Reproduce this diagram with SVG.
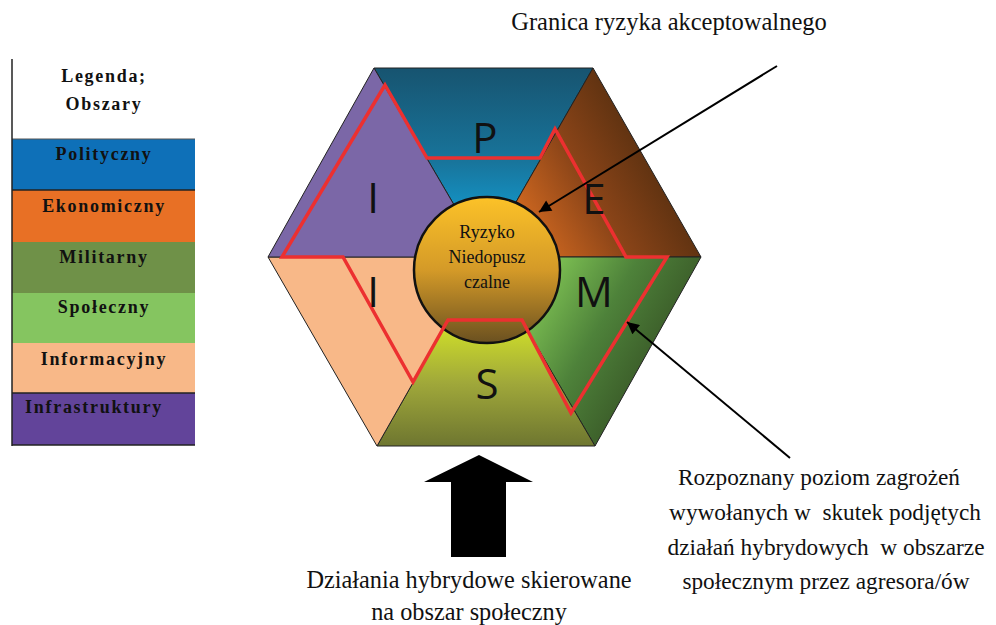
<svg xmlns="http://www.w3.org/2000/svg" width="996" height="625" viewBox="0 0 996 625">
<defs>
<linearGradient id="gP" x1="0" y1="68" x2="0" y2="257" gradientUnits="userSpaceOnUse"><stop offset="0" stop-color="#175470"/><stop offset="0.5" stop-color="#18759c"/><stop offset="1" stop-color="#10b0ee"/></linearGradient>
<linearGradient id="gE" x1="530" y1="235" x2="660" y2="160" gradientUnits="userSpaceOnUse"><stop offset="0" stop-color="#d06820"/><stop offset="0.5" stop-color="#8a4418"/><stop offset="1" stop-color="#5a3010"/></linearGradient>
<linearGradient id="gM" x1="545" y1="280" x2="665" y2="350" gradientUnits="userSpaceOnUse"><stop offset="0" stop-color="#7cbf52"/><stop offset="0.5" stop-color="#4e823a"/><stop offset="1" stop-color="#3a5a28"/></linearGradient>
<linearGradient id="gS" x1="0" y1="320" x2="0" y2="446" gradientUnits="userSpaceOnUse"><stop offset="0" stop-color="#d4e428"/><stop offset="0.5" stop-color="#a0a83a"/><stop offset="1" stop-color="#6e7630"/></linearGradient>
<linearGradient id="gC" x1="0" y1="197" x2="0" y2="343" gradientUnits="userSpaceOnUse"><stop offset="0" stop-color="#fcc228"/><stop offset="0.5" stop-color="#d49a28"/><stop offset="1" stop-color="#6a5020"/></linearGradient>
<marker id="ah" viewBox="0 0 10 10" refX="10" refY="5" markerWidth="7" markerHeight="6" orient="auto" markerUnits="strokeWidth"><path d="M0,0 L10,5 L0,10 z" fill="#000"/></marker>
</defs>
<style>
.sec{stroke:#222;stroke-width:1;stroke-linejoin:round}
.lg{font-family:"Liberation Serif",serif;font-weight:bold;font-size:18px;letter-spacing:1.7px;fill:#111;text-anchor:middle}
.big{font-family:"Open Sans","Liberation Sans",sans-serif;font-size:42px;fill:#111;text-anchor:middle}
.tx{font-family:"Liberation Serif",serif;fill:#111;text-anchor:middle}
.conn{stroke:#000;stroke-width:2;fill:none}
</style>
<rect width="996" height="625" fill="#fff"/>

<g id="legend">
<rect x="12" y="139" width="183" height="51" fill="#0e70b8"/>
<rect x="12" y="190" width="183" height="52" fill="#e87025"/>
<rect x="12" y="242" width="183" height="51" fill="#6f9148"/>
<rect x="12" y="293" width="183" height="50" fill="#85c560"/>
<rect x="12" y="343" width="183" height="50" fill="#f8b888"/>
<rect x="12" y="393" width="183" height="52" fill="#62449a"/>
<line x1="12" y1="139" x2="195" y2="139" stroke="#555" stroke-width="1"/>
<line x1="12" y1="190" x2="195" y2="190" stroke="#222" stroke-width="1.5"/>
<line x1="12" y1="393" x2="195" y2="393" stroke="#222" stroke-width="1.5"/>
<line x1="12" y1="445" x2="195" y2="445" stroke="#222" stroke-width="1.5"/>
<line x1="12" y1="59" x2="12" y2="446" stroke="#222" stroke-width="1.5"/>
<text class="lg" x="104" y="82">Legenda;</text>
<text class="lg" x="104" y="110">Obszary</text>
<text class="lg" x="104" y="160">Polityczny</text>
<text class="lg" x="104" y="212">Ekonomiczny</text>
<text class="lg" x="104" y="263">Militarny</text>
<text class="lg" x="104" y="313">Społeczny</text>
<text class="lg" x="104" y="365">Informacyjny</text>
<text class="lg" x="94" y="413">Infrastruktury</text>
</g>

<g id="hexagon">
<polygon id="sector-P" class="sec" fill="url(#gP)" points="484.5,257 374,68 593,68"/>
<polygon id="sector-E" class="sec" fill="url(#gE)" points="484.5,257 593,68 701,257"/>
<polygon id="sector-M" class="sec" fill="url(#gM)" points="484.5,257 701,257 595,446"/>
<polygon id="sector-S" class="sec" fill="url(#gS)" points="484.5,257 595,446 377,446"/>
<polygon id="sector-I2" class="sec" fill="#f8b888" points="484.5,257 377,446 268,257"/>
<polygon id="sector-I1" class="sec" fill="#7b67a7" points="484.5,257 268,257 374,68"/>
</g>

<g id="risk-circle">
<circle cx="487" cy="270" r="73" fill="url(#gC)" stroke="#111" stroke-width="2.5"/>
<text class="tx" font-size="18" x="487" y="238">Ryzyko</text>
<text class="tx" font-size="18" x="487" y="263">Niedopusz</text>
<text class="tx" font-size="18" x="487" y="288">czalne</text>
</g>

<g id="boundary">
<polygon points="385,85 427,158 540,158 555,129 626,257 667,257 571,413 522,320 448,320 413,382 343,257 282,257" fill="none" stroke="#ec3030" stroke-width="3.5" stroke-linejoin="miter"/>
</g>

<g id="letters">
<text class="big" x="485" y="153">P</text>
<text class="big" x="594" y="214">E</text>
<text class="big" x="373" y="213">I</text>
<text class="big" x="373" y="307">I</text>
<text class="big" x="594" y="307">M</text>
<text class="big" x="487" y="399">S</text>
</g>

<g id="connectors">
<line class="conn" x1="777" y1="66" x2="539" y2="212" marker-end="url(#ah)"/>
<line class="conn" x1="790" y1="458" x2="627" y2="322" marker-end="url(#ah)"/>
<polygon id="block-arrow" points="479,455 533,482 506,482 506,557 451,557 451,482 424,482" fill="#000"/>
</g>

<g id="labels">
<text class="tx" font-size="24.5" x="669" y="30">Granica ryzyka akceptowalnego</text>
<text class="tx" font-size="23.3" x="819" y="485">Rozpoznany poziom zagrożeń</text>
<text class="tx" font-size="23.3" x="825" y="520" xml:space="preserve">wywołanych w  skutek podjętych</text>
<text class="tx" font-size="23.3" x="826" y="555" xml:space="preserve">działań hybrydowych  w obszarze</text>
<text class="tx" font-size="23.3" x="826" y="589">społecznym przez agresora/ów</text>
<text class="tx" font-size="24.3" x="469" y="588">Działania hybrydowe skierowane</text>
<text class="tx" font-size="24.3" x="469" y="620">na obszar społeczny</text>
</g>
</svg>
